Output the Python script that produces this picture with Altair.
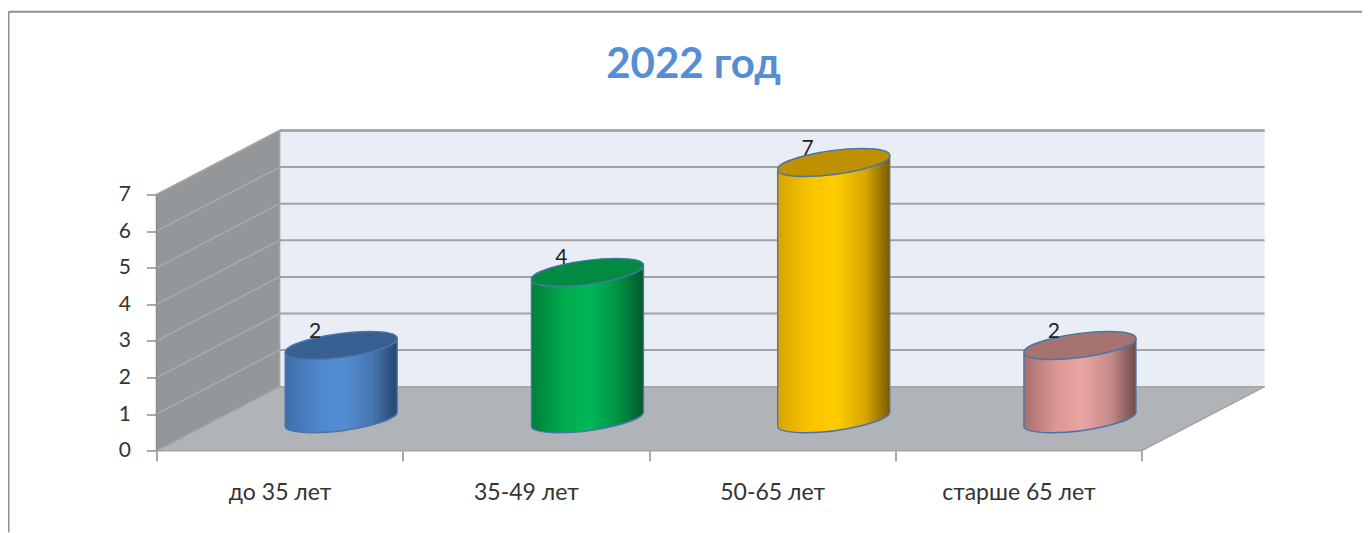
import altair as alt
import pandas as pd

categories = ["до 35 лет", "35-49 лет", "50-65 лет", "старше 65 лет"]
values = [2, 4, 7, 2]
y_ticks = [0, 1, 2, 3, 4, 5, 6, 7]
title_text = "2022 год"

side_colors = [
    ["#3d6fa8", "#4f86cc", "#558ed5", "#4576b0", "#26466e"],
    ["#007f3c", "#00ac4e", "#00b858", "#009045", "#00582c"],
    ["#d8a400", "#fbc400", "#ffcc00", "#d8a800", "#7a5c00"],
    ["#a86f6d", "#dc9896", "#eaa4a2", "#c48a88", "#6e4a48"],
]
top_colors = ["#376092", "#008a42", "#bf9000", "#a67371"]

FONT = "Lato"
GRID = "#a3a3a3"
EDGE = "#4a75a8"
DX, DY = 0.5, 1.75          # depth of the box, in axis units
PX_X, PX_Y = 246.25, 36.6   # pixels per axis unit
HALF_W, SLOPE = 56.0, 7.1   # cylinder half width / end drop, in pixels
PLOT_W, PLOT_H = 4.5 * PX_X, 8.75 * PX_Y

ELLIPSE = (f"M-{HALF_W} {SLOPE}A56.5 11.5 -7.5 1 1 {HALF_W} -{SLOPE}"
           f"A56.5 11.5 -7.5 1 1 -{HALF_W} {SLOPE}Z")

xs = alt.Scale(domain=[0, 4.5], nice=False, zero=False)
ys = alt.Scale(domain=[0, 8.75], nice=False, zero=False)
X = alt.X("x:Q", scale=xs, title=None)
Y = alt.Y("y:Q", scale=ys, title=None)
Y2 = alt.Y2("y2:Q")


def poly(rows, **mark):
    d = pd.DataFrame(rows, columns=["x", "y", "y2"])
    return alt.Chart(d).mark_area(**mark).encode(x=X, y=Y, y2=Y2)


def seg(rows, color, width):
    d = pd.DataFrame(rows, columns=["x", "y", "k"])
    return alt.Chart(d).mark_line(color=color, strokeWidth=width, clip=False).encode(
        x=X, y=Y, detail="k:N")


def grad(cols):
    return alt.LinearGradient(
        gradient="linear", x1=0, x2=1, y1=0, y2=0,
        stops=[alt.GradientStop(color=c, offset=o)
               for c, o in zip(cols, [0, 0.3, 0.52, 0.78, 1])])


# axes: ticks at the category borders, labels at their middle
tick_vals = [i / 2 for i in range(9)]
names = ",".join(f"'{c}'" for c in categories)
x_axis = alt.Axis(values=tick_vals, grid=False, domain=False, tickSize=10, tickWidth=1.5,
                  tickColor="#8c8c8c",
                  tickOpacity={"condition": {"test": "datum.value % 1 == 0", "value": 1}, "value": 0},
                  labelExpr=f"datum.value % 1 ? [{names}][floor(datum.value)] : ''",
                  labelAngle=0, labelFont=FONT, labelFontSize=23, labelColor="#333333",
                  labelPadding=21, labelOverlap=False, labelFlush=False)
y_axis = alt.Axis(values=y_ticks, grid=False, domain=False, tickSize=10, tickWidth=1.5,
                  tickColor="#8c8c8c", labelFont=FONT, labelFontSize=21, labelColor="#333333",
                  labelPadding=16, format="d")

base = alt.Chart(pd.DataFrame({"x": [0.0], "y": [0.0]})).mark_point(opacity=0).encode(
    x=alt.X("x:Q", scale=xs, title=None, axis=x_axis),
    y=alt.Y("y:Q", scale=ys, title=None, axis=y_axis),
)

layers = [base]

# back wall, side wall, floor
layers.append(poly([(DX, DY, 7 + DY), (4.5, DY, 7 + DY)], color="#e9edf5"))
layers.append(seg([(DX, k + DY, k) for k in range(1, 8)] + [(4.5, k + DY, k) for k in range(1, 8)], GRID, 2))
layers.append(poly([(0, 0, 7), (DX, DY, 7 + DY)], color="#94979a"))
layers.append(seg([(0, k, k) for k in range(1, 8)] + [(DX, k + DY, k) for k in range(1, 8)], "#a9abab", 1.5))
layers.append(poly([(0, 0, 0), (DX, 0, DY), (4, 0, DY), (4.5, DY, DY)], color="#b0b3b7"))
layers.append(seg([(DX, DY, "a"), (4.5, DY, "a"), (DX, 0 + DY, "b"), (DX, 7 + DY, "b"), (0, 0, "c"), (DX, DY, "c"),
                   (0, 0, "d"), (4, 0, "d"), (4.5, DY, "d"), (0, 7, "e"), (DX, 7 + DY, "e")], GRID, 1.5))
layers.append(seg([(DX, 7 + DY, "t"), (4.5, 7 + DY, "t")], "#a3a3a3", 2.5))
layers.append(seg([(0, 0, "v"), (0, 7, "v")], "#8c8c8c", 1.5))

# frame, partly cut off by the picture
fx0, fx1 = (8.5 - 156.5) / PX_X, (1362 - 156.5) / PX_X
fy0, fy1 = (450.5 - 11.5) / PX_Y, (450.5 - 532) / PX_Y
layers.append(seg([(fx0, fy0, "t"), (fx1, fy0, "t"), (fx0, fy1, "l"), (fx0, fy0, "l")], "#8f8f8f", 2))

# cylinders
z = DY / 2
for i, (cat, v) in enumerate(zip(categories, values)):
    c = i + 0.75
    w = HALF_W / PX_X
    s = SLOPE / PX_Y
    pt = pd.DataFrame({"x": [c, c], "y": [z, z + v]})
    layers.append(alt.Chart(pt.iloc[[0]]).mark_point(
        shape=ELLIPSE, size=4, filled=True, opacity=1, fill=grad(side_colors[i]),
        stroke=EDGE, strokeWidth=1.4).encode(x=X, y=Y))
    layers.append(poly([(c - w, z - s, z + v - s), (c + w, z + s, z + v + s)], color=grad(side_colors[i])))
    layers.append(seg([(c - w, z - s, "l"), (c - w, z + v - s, "l"), (c + w, z + s, "r"), (c + w, z + v + s, "r")],
                      EDGE, 1.4))
    layers.append(alt.Chart(pt.iloc[[1]]).mark_point(
        shape=ELLIPSE, size=4, filled=True, opacity=1, fill=top_colors[i],
        stroke=EDGE, strokeWidth=1.4).encode(x=X, y=Y))
    lab = pd.DataFrame({"x": [c], "y": [z + v], "t": [str(v)]})
    layers.append(alt.Chart(lab).mark_text(font=FONT, fontSize=21, color="#222222", dx=-26, dy=-14,
                                           baseline="middle").encode(x=X, y=Y, text="t:N"))

chart = alt.layer(*layers).properties(
    width=PLOT_W, height=PLOT_H,
    title=alt.TitleParams(title_text, font=FONT, fontSize=42, fontWeight="bold", color="#558ed5",
                          anchor="middle", dx=-17, offset=-79),
    autosize=alt.AutoSizeParams(type="none"),
    padding={"left": 148.5, "top": 122.5, "right": 97, "bottom": 82},
).configure_view(stroke=None)

chart.save("out.html", embed_options={"renderer": "svg", "actions": False})
